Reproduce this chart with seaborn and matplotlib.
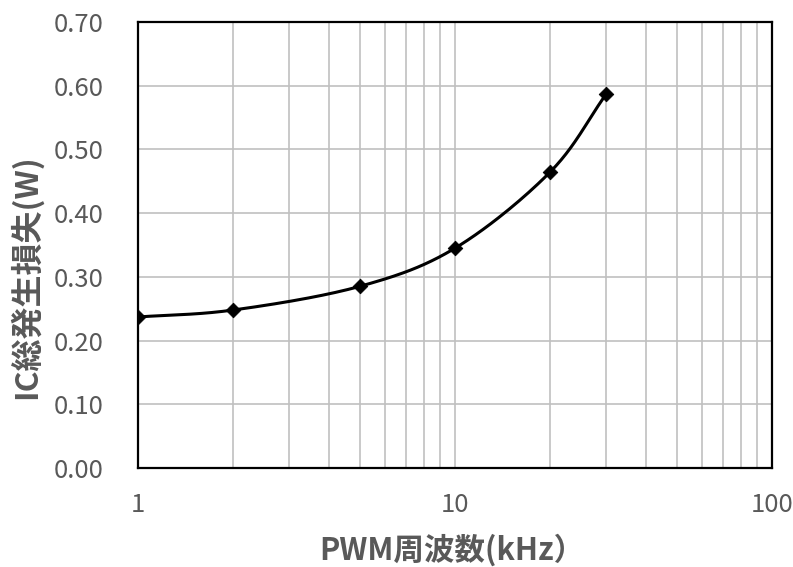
import numpy as np
import pandas as pd
import matplotlib
matplotlib.use("Agg")
import matplotlib.pyplot as plt
import seaborn as sns

# data
freq_khz = [1, 2, 5, 10, 20, 30]
loss_w = [0.237, 0.248, 0.285, 0.345, 0.465, 0.587]
y_ticks = [0.0, 0.1, 0.2, 0.3, 0.4, 0.5, 0.6, 0.7]
x_ticks = [1, 10, 100]

df = pd.DataFrame({"freq": freq_khz, "loss": loss_w})

sns.set_theme(style="white")
plt.rcParams["font.family"] = ["Noto Sans CJK JP", "DejaVu Sans"]


def smooth_line(x, y, n=40):
    # Catmull-Rom style smoothing (like a spreadsheet "smoothed line"), in log-x space
    lx = np.log10(np.asarray(x, float))
    yy = np.asarray(y, float)
    px = np.concatenate([[2 * lx[0] - lx[1]], lx, [2 * lx[-1] - lx[-2]]])
    py = np.concatenate([[2 * yy[0] - yy[1]], yy, [2 * yy[-1] - yy[-2]]])
    xs, ys = [], []
    for i in range(1, len(px) - 2):
        t = np.linspace(0, 1, n)
        p0, p1, p2, p3 = px[i - 1], px[i], px[i + 1], px[i + 2]
        q0, q1, q2, q3 = py[i - 1], py[i], py[i + 1], py[i + 2]
        # bezier control points
        c1x, c1y = p1 + (p2 - p0) / 6, q1 + (q2 - q0) / 6
        c2x, c2y = p2 - (p3 - p1) / 6, q2 - (q3 - q1) / 6
        bx = (1 - t) ** 3 * p1 + 3 * (1 - t) ** 2 * t * c1x + 3 * (1 - t) * t ** 2 * c2x + t ** 3 * p2
        by = (1 - t) ** 3 * q1 + 3 * (1 - t) ** 2 * t * c1y + 3 * (1 - t) * t ** 2 * c2y + t ** 3 * q2
        xs.extend(bx)
        ys.extend(by)
    return 10 ** np.array(xs), np.array(ys)


fig = plt.figure(figsize=(7.93, 5.67), dpi=100)
ax = fig.add_axes([0.174, 0.1746, 0.7995, 0.7866])

sx, sy = smooth_line(df["freq"], df["loss"])
ax.plot(sx, sy, color="black", linewidth=2.2, zorder=3)
sns.scatterplot(data=df, x="freq", y="loss", marker="D", s=55, color="black",
                edgecolor="black", ax=ax, zorder=4)

ax.set_xscale("log")
ax.set_xlim(1, 100)
ax.set_ylim(0, 0.7)
ax.set_xticks(x_ticks)
ax.set_xticklabels([str(v) for v in x_ticks])
ax.set_yticks(y_ticks)
ax.set_yticklabels([f"{v:.2f}" for v in y_ticks])

ax.grid(True, which="major", color="#c0c0c0", linewidth=1.2)
ax.grid(True, which="minor", axis="x", color="#c0c0c0", linewidth=1.2)
ax.set_axisbelow(True)

for sp in ax.spines.values():
    sp.set_color("black")
    sp.set_linewidth(1.6)

ax.tick_params(axis="both", which="both", length=0, labelsize=18.5, colors="#595959")
ax.tick_params(axis="y", pad=25)
ax.tick_params(axis="x", pad=17)
ax.tick_params(axis="x", which="minor", labelbottom=False)

ax.set_xlabel("PWM周波数(kHz）", fontsize=22, color="#595959", fontweight="bold")
ax.set_ylabel("IC総発生損失(W)", fontsize=23, color="#595959", fontweight="bold")
ax.xaxis.set_label_coords(0.495, -0.148)
ax.yaxis.set_label_coords(-0.150, 0.43)

fig.savefig("out.png", dpi=100)
